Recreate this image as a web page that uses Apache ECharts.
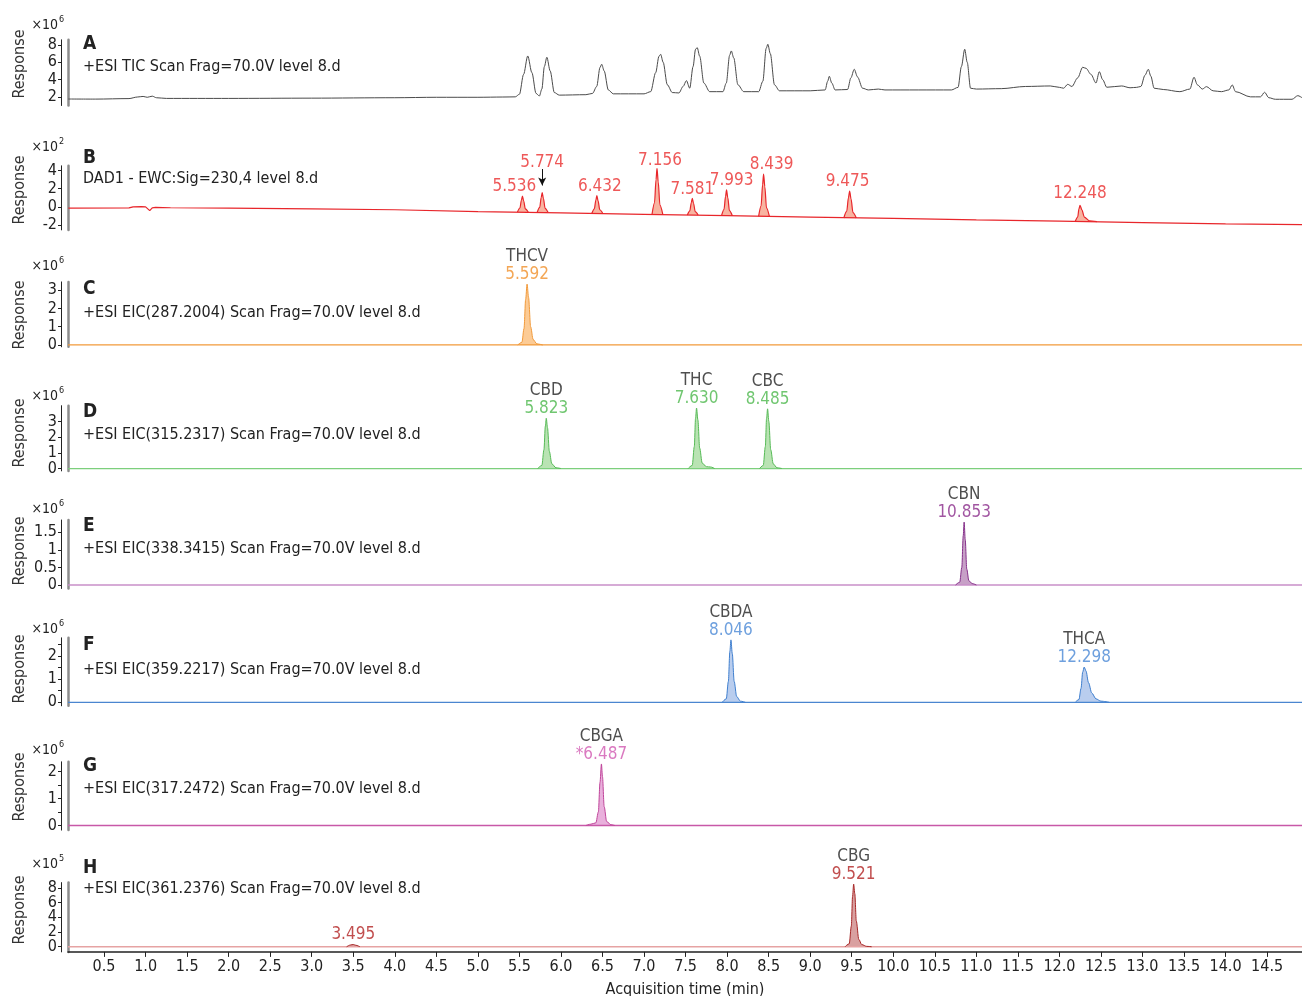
<!DOCTYPE html>
<html>
<head>
<meta charset="utf-8">
<script src="https://cdn.jsdelivr.net/npm/echarts@6/dist/echarts.min.js"></script>
<style>
  html, body { margin: 0; padding: 0; background: #fff; }
  #chart { width: 1302px; height: 996px; }
</style>
</head>
<body>
<div id="chart"></div>
<script>
// ---- data ----
const xTicks = [0.5,1,1.5,2,2.5,3,3.5,4,4.5,5,5.5,6,6.5,7,7.5,8,8.5,9,9.5,10,10.5,11,11.5,12,12.5,13,13.5,14,14.5]

// A: TIC, x10^6
const ticA = [[0.07,1.75],[0.4,1.74],[0.8,1.8],[0.9,1.98],[0.97,2.05],[1.02,1.95],[1.08,2.08],[1.13,1.9],[1.25,1.82],[2.0,1.82],[3.0,1.85],[4.0,1.9],[4.5,1.95],[5.0,1.95],[5.3,1.98],
  [5.45,2.0],[5.5,2.3],[5.55,4.6],[5.60,6.73],[5.65,4.8],[5.70,2.4],[5.74,2.1],
  [5.77,2.9],[5.80,5.5],[5.83,6.58],[5.87,5.0],[5.92,2.5],[5.98,2.2],[6.3,2.25],[6.38,2.4],
  [6.43,3.2],[6.47,5.4],[6.49,5.77],[6.52,5.0],[6.57,2.8],[6.63,2.35],[7.0,2.35],[7.08,2.6],
  [7.14,4.8],[7.18,6.7],[7.20,6.92],[7.23,6.0],[7.28,3.4],[7.34,2.5],[7.42,2.45],[7.47,3.2],[7.51,3.88],[7.55,3.0],
  [7.59,5.5],[7.62,7.5],[7.64,7.69],[7.67,6.7],[7.72,3.6],[7.79,2.6],[7.95,2.6],[7.99,3.6],
  [8.03,6.8],[8.05,7.31],[8.08,6.5],[8.13,3.4],[8.2,2.6],[8.38,2.6],[8.43,3.8],
  [8.47,7.6],[8.49,8.08],[8.52,7.0],[8.57,3.4],[8.63,2.7],[9.0,2.7],[9.18,2.8],[9.21,3.8],[9.23,4.38],[9.26,3.6],[9.3,2.8],
  [9.45,2.85],[9.49,4.2],[9.53,5.19],[9.57,4.3],[9.63,3.0],[9.7,2.8],[9.82,2.9],[9.9,2.8],[10.7,2.8],[10.78,3.1],[10.82,5.5],[10.86,7.5],[10.89,6.0],[10.93,3.0],
  [11.0,2.9],[11.3,2.95],[11.59,3.2],[11.89,3.26],[12.0,3.1],[12.05,3.0],[12.1,3.45],[12.15,3.2],[12.22,4.2],[12.28,5.42],[12.32,5.3],[12.38,4.6],[12.44,3.6],[12.48,4.91],[12.52,4.0],[12.57,3.11],
  [12.75,3.26],[12.85,3.05],[12.93,3.1],[12.98,3.2],[13.03,4.5],[13.07,5.19],[13.1,4.4],[13.14,3.0],[13.25,2.85],[13.45,2.6],[13.57,2.9],[13.62,4.27],[13.66,3.4],[13.72,2.9],[13.77,3.18],[13.85,2.7],
  [13.95,2.6],[14.04,2.8],[14.08,3.38],[14.12,2.6],[14.3,2.0],[14.42,2.0],[14.47,2.53],[14.52,1.9],[14.6,1.72],[14.8,1.72],[14.87,2.14],[14.92,1.9]]

// B: DAD1, x10^2
const dadBase = [[0.07,-0.12],[0.8,-0.1],[0.85,0.02],[0.95,0.05],[1.0,0.02],[1.02,-0.1],[1.05,-0.4],[1.08,-0.1],[1.12,-0.05],[1.3,-0.08],[2.0,-0.12],[3.0,-0.2],[4.0,-0.3],[5.0,-0.5],[6.0,-0.65],[7.0,-0.8],[8.0,-0.95],[9.0,-1.1],[10.0,-1.24],[11.0,-1.4],[12.0,-1.55],[13.0,-1.7],[14.0,-1.85],[14.92,-1.92]]
const dadPeaks = [
  [[5.476,-0.55],[5.506,-0.11],[5.524,0.76],[5.536,1.2],[5.551,0.68],[5.571,-0.2],[5.606,-0.55]],
  [[5.714,-0.58],[5.744,-0.05],[5.762,1.03],[5.774,1.56],[5.789,0.92],[5.809,-0.15],[5.844,-0.58]],
  [[6.372,-0.68],[6.402,-0.2],[6.42,0.76],[6.432,1.24],[6.447,0.66],[6.467,-0.3],[6.502,-0.68]],
  [[7.096,-0.8],[7.126,0.46],[7.144,2.97],[7.156,4.23],[7.171,2.72],[7.191,0.21],[7.226,-0.8]],
  [[7.521,-0.88],[7.551,-0.42],[7.569,0.49],[7.581,0.95],[7.596,0.4],[7.616,-0.51],[7.651,-0.88]],
  [[7.933,-0.95],[7.963,-0.25],[7.981,1.16],[7.993,1.86],[8.008,1.02],[8.028,-0.39],[8.063,-0.95]],
  [[8.379,-1.03],[8.409,0.13],[8.427,2.44],[8.439,3.6],[8.454,2.21],[8.474,-0.1],[8.509,-1.03]],
  [[9.405,-1.2],[9.44,-0.46],[9.46,1.01],[9.475,1.75],[9.492,0.87],[9.515,-0.61],[9.555,-1.2]],
  [[12.19,-1.58],[12.22,-1.1],[12.235,-0.2],[12.248,0.19],[12.27,-0.3],[12.3,-1.1],[12.36,-1.5],[12.45,-1.6]]
]
const dadPeakBase = [-0.55,-0.58,-0.68,-0.8,-0.88,-0.95,-1.03,-1.2,-1.58]
const dadLabels = [[5.536,1.2,'5.536'],[5.774,1.56,'5.774'],[6.432,1.24,'6.432'],[7.156,4.23,'7.156'],[7.581,0.95,'7.581'],[7.993,1.86,'7.993'],[8.439,3.6,'8.439'],[9.475,1.75,'9.475'],[12.248,0.19,'12.248']]
const dadArrow = [[5.774,4.15],[5.774,2.35]]

// C-H: EIC traces, baselines and peaks
const eicBase = [[0.066,0],[14.92,0]]
const thcvPeak = [[5.48,0],[5.53,0.15],[5.555,0.9],[5.575,2.5],[5.592,3.33],[5.61,2.6],[5.635,1.0],[5.665,0.3],[5.71,0.06],[5.78,0]]
const cbdPeak = [[5.72,0],[5.77,0.2],[5.795,1.2],[5.812,2.7],[5.823,3.2],[5.838,2.6],[5.86,1.1],[5.89,0.3],[5.94,0.05],[6.0,0]]
const thcPeak = [[7.53,0],[7.58,0.2],[7.605,1.4],[7.62,3.2],[7.632,3.85],[7.648,3.1],[7.67,1.3],[7.70,0.35],[7.75,0.12],[7.8,0.1],[7.85,0]]
const cbcPeak = [[8.39,0],[8.435,0.2],[8.46,1.4],[8.475,3.2],[8.487,3.8],[8.502,3.0],[8.525,1.2],[8.555,0.3],[8.6,0.05],[8.66,0]]
const cbnPeak = [[10.75,0],[10.8,0.08],[10.825,0.5],[10.842,1.4],[10.853,1.79],[10.866,1.3],[10.885,0.45],[10.91,0.12],[10.95,0.04],[11.0,0]]
const cbdaPeak = [[7.94,0],[7.99,0.15],[8.015,0.9],[8.033,2.2],[8.046,2.69],[8.062,2.1],[8.085,0.9],[8.115,0.25],[8.16,0.05],[8.22,0]]
const thcaPeak = [[12.19,0],[12.235,0.12],[12.26,0.6],[12.28,1.3],[12.298,1.52],[12.32,1.35],[12.35,0.85],[12.39,0.4],[12.44,0.15],[12.5,0.05],[12.6,0]]
const cbgaPeak = [[6.3,0],[6.36,0.05],[6.42,0.1],[6.45,0.5],[6.47,1.6],[6.487,2.28],[6.5,1.8],[6.52,0.7],[6.55,0.15],[6.6,0.03],[6.65,0]]
const smallPeakH = [[3.42,0],[3.47,0.25],[3.5,0.3],[3.53,0.2],[3.58,0]]
const cbgPeak = [[9.42,0],[9.47,0.4],[9.495,2.8],[9.51,6.8],[9.523,8.5],[9.537,7.2],[9.555,3.5],[9.585,1.0],[9.62,0.3],[9.68,0.05],[9.74,0]]

// [time, apex, compound, retention label]
const labelsC = [[5.592,3.33,'THCV','5.592']]
const labelsD = [[5.823,3.2,'CBD','5.823'],[7.632,3.85,'THC','7.630'],[8.487,3.8,'CBC','8.485']]
const labelsE = [[10.853,1.79,'CBN','10.853']]
const labelsF = [[8.046,2.69,'CBDA','8.046'],[12.298,1.52,'THCA','12.298']]
const labelsG = [[6.487,2.28,'CBGA','*6.487']]
const labelsH = [[9.523,8.5,'CBG','9.521'],[3.5,0.3,'','3.495']]

const yTicks = [[2,4,6,8],[-2,0,2,4],[0,1,2,3],[0,1,2,3],[0,0.5,1,1.5],[0,1,2],[0,1,2],[0,2,4,6,8]]
const yMinorTicks = [[2,4,6,8],[-2,0,2,4],[0,1,2,3],[0,1,2,3],[0,0.5,1,1.5],[0,0.5,1,1.5,2,2.5],[0,0.5,1,1.5,2],[0,2,4,6,8]]
const yMin = [1,-2.5,-0.1,-0.15,-0.1,-0.15,-0.17,-0.7]
const yMax = [8.6,4.5,3.45,4.0,1.85,2.78,2.36,8.7]
const powers = ['6','2','6','6','6','6','6','5']
const letters = ['A','B','C','D','E','F','G','H']
const subtitles = [
  '+ESI TIC Scan Frag=70.0V level 8.d',
  'DAD1 - EWC:Sig=230,4 level 8.d',
  '+ESI EIC(287.2004) Scan Frag=70.0V level 8.d',
  '+ESI EIC(315.2317) Scan Frag=70.0V level 8.d',
  '+ESI EIC(338.3415) Scan Frag=70.0V level 8.d',
  '+ESI EIC(359.2217) Scan Frag=70.0V level 8.d',
  '+ESI EIC(317.2472) Scan Frag=70.0V level 8.d',
  '+ESI EIC(361.2376) Scan Frag=70.0V level 8.d'
]

// ---- layout ----
const FF = "'Liberation Sans Narrow','DejaVu Sans Condensed','Noto Sans',sans-serif"
const X_MIN = 0.066, X_MAX = 14.92
const gridTop = [39.8,165.8,281.9,405.7,520,637.8,761.8,882.6]
const gridBot = [105.5,229.9,346.8,470.9,588.5,705.8,830.1,951.9]
const letterY = [44,158,289,412,526,645,766,868]
const subY = [67,179,313,435,549,670,789,889]
const powY = [25,147,266,396,509,629,750,864]
const respY = [64,190,315,433,551,669,787,910]
const dadLabelShift = [[-8,2],[0,-19],[3,2],[3,3],[0,2],[5,2],[8,2],[-2,2],[0,-1]]

const panelColor = [
  {line:'#4a4a4a'},
  {line:'#e8262b', fill:'#f8b4a1', label:'#ea2e2e', base:'#e8262b'},
  {line:'#f29a3a', fill:'#fccb95', label:'#f0902a', base:'#f29a3a'},
  {line:'#56bb56', fill:'#b9e3b3', label:'#4cb84c', base:'#7ccf7c'},
  {line:'#86308a', fill:'#c7a0c7', label:'#8a2a8a', base:'#c98fc9'},
  {line:'#3f7fcf', fill:'#b9cdee', label:'#4a88d6', base:'#4a86d0'},
  {line:'#c0449a', fill:'#e9b0dc', label:'#d158b0', base:'#c858a8'},
  {line:'#a82828', fill:'#d9a0a0', label:'#b22222', base:'#e6a3a3'}
]

const chart = echarts.init(document.getElementById('chart'))

const grids = [], xAxes = [], yAxes = [], series = [], graphics = []
const tickFont = { fontSize: 16, color: '#222', fontFamily: FF }
for (let i = 0; i < 8; i++) {
  grids.push({ left: 68, right: 0, top: gridTop[i], height: gridBot[i] - gridTop[i], containLabel: false, outerBoundsMode: 'none' })
  const last = i === 7
  xAxes.push({
    gridIndex: i, type: 'value', min: X_MIN, max: X_MAX, show: last,
    axisLine: { show: true, onZero: false, lineStyle: { color: '#222', width: 1.5 } },
    axisTick: { show: true, length: 5, customValues: xTicks, lineStyle: { color: '#222' } },
    axisLabel: Object.assign({ customValues: xTicks, formatter: v => v.toFixed(1), margin: 7 }, tickFont),
    splitLine: { show: false },
    name: last ? 'Acquisition time (min)' : '', nameLocation: 'middle', nameGap: 30,
    nameTextStyle: { fontSize: 16, color: '#222', fontFamily: FF }
  })
  // tick labels are split over the two left axes so that the library never drops crowded ones
  const evenLabels = yTicks[i].filter((v, k) => k % 2 === 0)
  const oddLabels = yTicks[i].filter((v, k) => k % 2 === 1)
  yAxes.push({
    gridIndex: i, type: 'value', position: 'left', offset: 7, min: yMin[i], max: yMax[i],
    axisLine: { show: true, onZero: false, lineStyle: { color: '#222', width: 1 } },
    axisTick: { show: true, length: 3, customValues: yMinorTicks[i], lineStyle: { color: '#222' } },
    axisLabel: Object.assign({ customValues: evenLabels, margin: 4 }, tickFont),
    splitLine: { show: false }
  })
  yAxes.push({
    gridIndex: i, type: 'value', position: 'left', offset: 0, min: yMin[i], max: yMax[i],
    axisLine: { show: true, onZero: false, lineStyle: { color: '#8c8c8c', width: 2.5 } },
    axisTick: { show: false },
    axisLabel: Object.assign({ customValues: oddLabels, margin: 11 }, tickFont),
    splitLine: { show: false }
  })
  graphics.push({ type: 'text', x: 83, y: letterY[i], style: { text: letters[i], fontSize: 19, fontWeight: 'bold', fontFamily: FF, fill: '#222', verticalAlign: 'middle' } })
  graphics.push({ type: 'text', x: 83, y: subY[i], style: { text: subtitles[i], fontSize: 16, fontFamily: FF, fill: '#222', verticalAlign: 'middle' } })
  graphics.push({ type: 'text', x: 58, y: powY[i], style: { text: '×10', fontSize: 14, fontFamily: FF, fill: '#222', align: 'right', verticalAlign: 'middle' } })
  graphics.push({ type: 'text', x: 59, y: powY[i] - 5, style: { text: powers[i], fontSize: 9, fontFamily: FF, fill: '#222', verticalAlign: 'middle' } })
  graphics.push({ type: 'text', x: 20, y: respY[i], rotation: Math.PI / 2, style: { text: 'Response', fontSize: 16, fontFamily: FF, fill: '#333', align: 'center', verticalAlign: 'middle' } })
}

function trace (i, data, color, width, smooth, fill, origin) {
  const s = {
    type: 'line', xAxisIndex: i, yAxisIndex: i * 2, data: data, symbol: 'none',
    smooth: smooth, smoothMonotone: 'x', silent: true,
    lineStyle: { color: color, width: width }, itemStyle: { color: color }
  }
  if (fill) s.areaStyle = { color: fill, opacity: 1, origin: origin }
  return s
}

function peakLabels (i, rows, nameColor) {
  return {
    type: 'scatter', xAxisIndex: i, yAxisIndex: i * 2, symbolSize: 1, silent: true,
    itemStyle: { color: 'rgba(0,0,0,0)' },
    data: rows.map(r => ({ value: [r[0], r[1]], nm: r[2], rt: r[3] })),
    label: {
      show: true, position: 'top', distance: 0,
      formatter: p => (p.data.nm ? '{n|' + p.data.nm + '}\n' : '') + '{r|' + p.data.rt + '}',
      rich: {
        n: { color: '#222', fontSize: 17, fontFamily: FF, lineHeight: 18 },
        r: { color: nameColor, fontSize: 17, fontFamily: FF, lineHeight: 18 }
      }
    }
  }
}

// A
series.push(trace(0, ticA, panelColor[0].line, 1, 0.3))
// B
series.push(trace(1, dadBase, panelColor[1].base, 1.2, false))
dadPeaks.forEach((pk, k) => series.push(trace(1, pk, panelColor[1].line, 1.2, 0.3, panelColor[1].fill, dadPeakBase[k])))
series.push({
  type: 'scatter', xAxisIndex: 1, yAxisIndex: 2, symbolSize: 1, silent: true,
  itemStyle: { color: 'rgba(0,0,0,0)' },
  data: dadLabels.map((r, k) => ({ value: [r[0], r[1]], rt: r[2], label: { offset: dadLabelShift[k] } })),
  label: { show: true, position: 'top', distance: 2, formatter: p => p.data.rt, color: panelColor[1].label, fontSize: 17, fontFamily: FF },
  markLine: {
    silent: true, symbol: ['none', 'arrow'], symbolSize: [6, 8], animation: false,
    lineStyle: { color: '#111', width: 1, type: 'solid' }, label: { show: false },
    data: [[{ coord: dadArrow[0] }, { coord: dadArrow[1] }]]
  }
})
// C-H
const eicPeaks = [[thcvPeak],[cbdPeak, thcPeak, cbcPeak],[cbnPeak],[cbdaPeak, thcaPeak],[cbgaPeak],[smallPeakH, cbgPeak]]
const eicLabels = [labelsC, labelsD, labelsE, labelsF, labelsG, labelsH]
for (let j = 0; j < 6; j++) {
  const i = j + 2, c = panelColor[i]
  series.push(trace(i, eicBase, c.base, 1.3, false))
  eicPeaks[j].forEach(pk => series.push(trace(i, pk, c.line, 1, 0.3, c.fill, 0)))
  series.push(peakLabels(i, eicLabels[j], c.label))
}

chart.setOption({
  backgroundColor: '#fff',
  animation: false,
  textStyle: { fontFamily: FF },
  grid: grids,
  xAxis: xAxes,
  yAxis: yAxes,
  graphic: graphics,
  series: series
})
</script>
</body>
</html>
